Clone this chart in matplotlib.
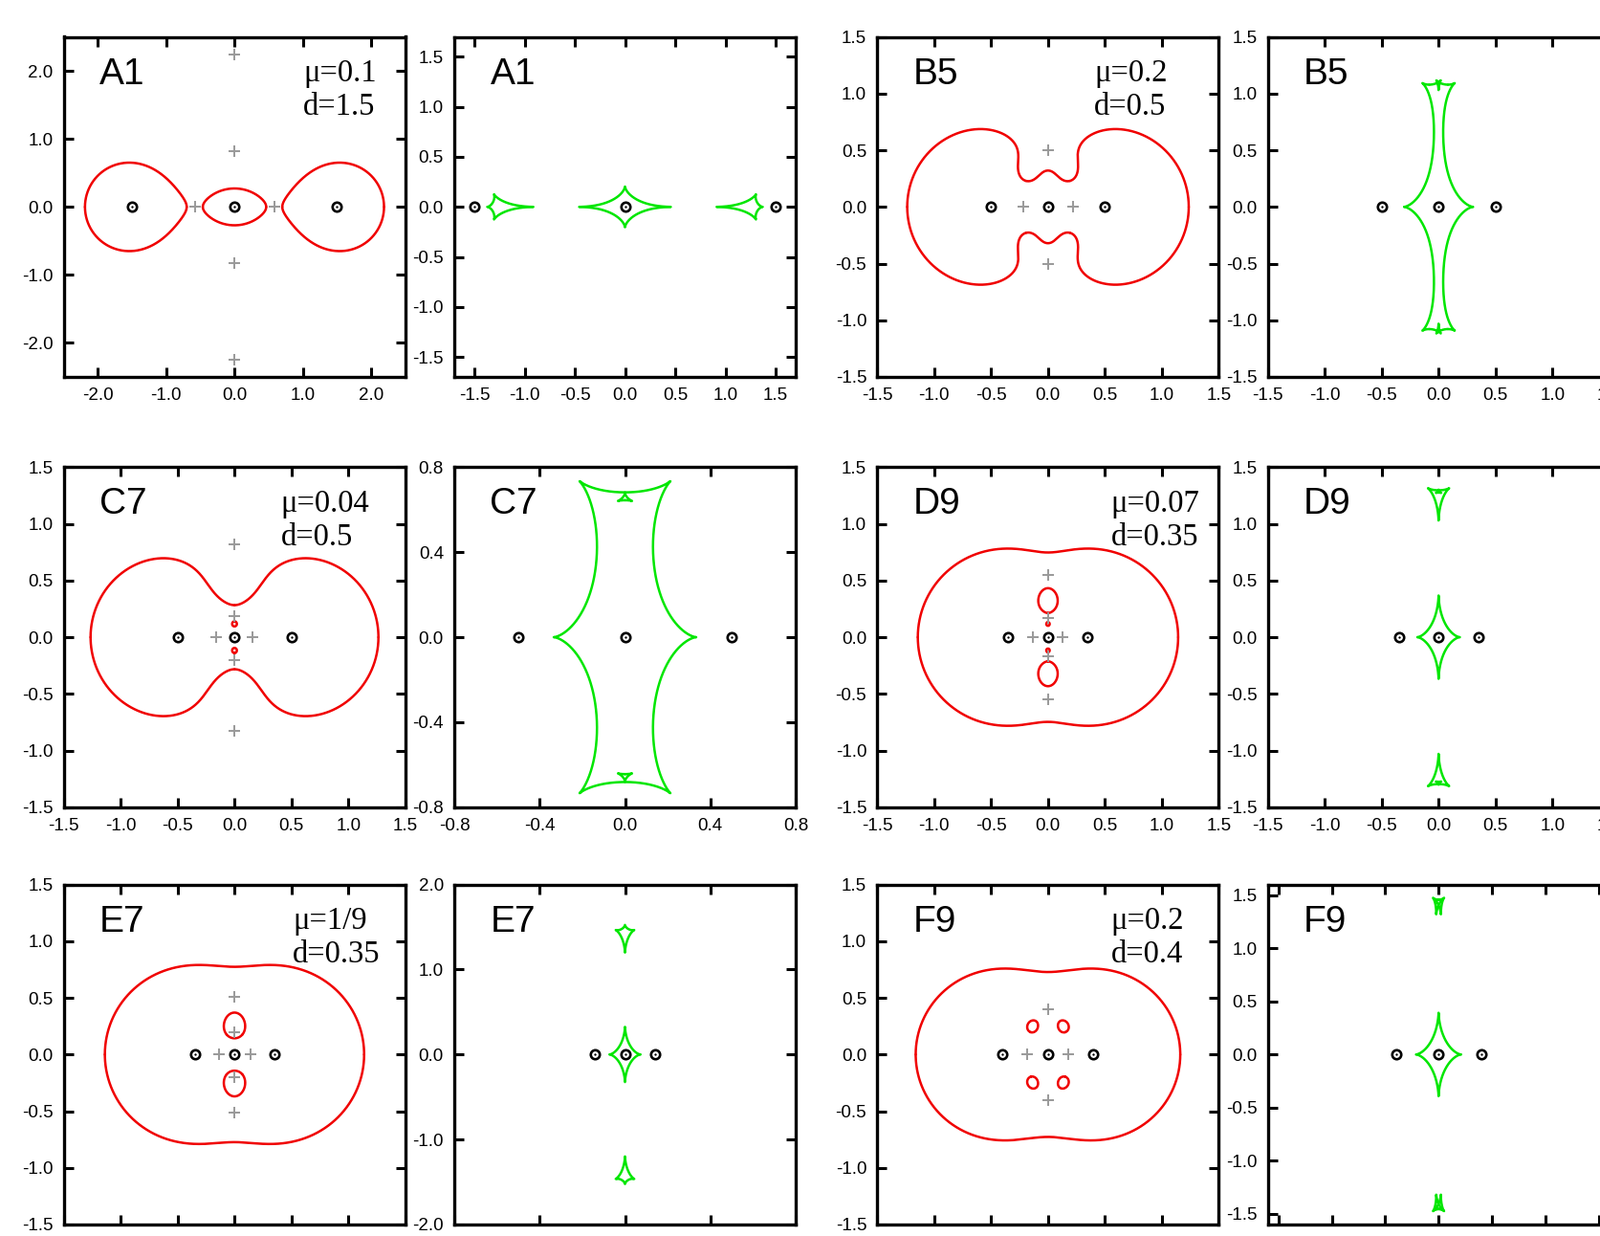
import numpy as np
import matplotlib
matplotlib.use("Agg")
import matplotlib.pyplot as plt
from matplotlib.ticker import FormatStrFormatter

plt.rcParams['font.family'] = 'Liberation Sans'
plt.rcParams['axes.unicode_minus'] = False

# ---- chart data ----------------------------------------------------------
names = ['A1', 'B5', 'C7', 'D9', 'E7', 'F9']
mu_text = ['0.1', '0.2', '0.04', '0.07', '1/9', '0.2']
mu_vals = [0.1, 0.2, 0.04, 0.07, 1 / 9, 0.2]
d_text = ['1.5', '0.5', '0.5', '0.35', '0.35', '0.4']
d_vals = [1.5, 0.5, 0.5, 0.35, 0.35, 0.4]

# gray "+" markers in the lens plane
plus_x = [
    [0, 0, 0, 0, -0.58, 0.58],
    [0, 0, -0.22, 0.22],
    [0, 0, 0, 0, -0.16, 0.16],
    [0, 0, 0, 0, -0.13, 0.13],
    [0, 0, 0, 0, -0.14, 0.14],
    [0, 0, -0.18, 0.18],
]
plus_y = [
    [2.24, 0.82, -0.82, -2.24, 0, 0],
    [0.5, -0.5, 0, 0],
    [0.82, 0.19, -0.2, -0.83, 0, 0],
    [0.55, 0.165, -0.165, -0.55, 0, 0],
    [0.51, 0.2, -0.2, -0.51, 0, 0],
    [0.4, -0.4, 0, 0],
]

# axis ranges and tick steps (lens plane, source plane)
lens_lim = [2.5, 1.5, 1.5, 1.5, 1.5, 1.5]
lens_step = [1.0, 0.5, 0.5, 0.5, 0.5, 0.5]
src_lim = [1.7, 1.5, 0.8, 1.5, 2.0, 1.6]
src_step = [0.5, 0.5, 0.4, 0.5, 1.0, 0.5]
text_x = [0.701, 0.635, 0.635, 0.685, 0.671, 0.685]

RED = '#f00000'
GREEN = '#00e600'


def lens_setup(mu, d):
    # three point masses on the x axis, the middle one has mass mu
    zs = np.array([-d, 0.0, d], dtype=complex)
    ms = np.array([(1 - mu) / 2, mu, (1 - mu) / 2])
    return zs, ms


def match(prev, new):
    dist = np.abs(prev[:, None] - new[None, :])
    out = np.empty_like(prev)
    used_i, used_j = set(), set()
    for idx in np.argsort(dist, axis=None):
        i, j = divmod(int(idx), len(prev))
        if i in used_i or j in used_j:
            continue
        out[i] = new[j]
        used_i.add(i)
        used_j.add(j)
    return out


def critical_tracks(zs, ms, n=3000):
    sq = [np.polymul([1, -z], [1, -z]) for z in zs]
    full = np.polymul(np.polymul(sq[0], sq[1]), sq[2])
    part = np.zeros(1, complex)
    for i in range(3):
        o = [sq[j] for j in range(3) if j != i]
        part = np.polyadd(part, ms[i] * np.polymul(o[0], o[1]))
    phis = np.linspace(0, 2 * np.pi, n + 1)
    tracks = np.empty((n + 1, 6), complex)
    prev = None
    for k, ph in enumerate(phis):
        r = np.roots(np.polyadd(part, -np.exp(1j * ph) * full))
        if prev is not None:
            r = match(prev, r)
        tracks[k] = r
        prev = r
    return tracks


def to_source(z, zs, ms):
    w = z.copy()
    for zi, mi in zip(zs, ms):
        w = w - mi / np.conj(z - zi)
    return w


def draw_tracks(ax, tracks, color, lim):
    for k in range(tracks.shape[1]):
        t = tracks[:, k]
        x, y = t.real.copy(), t.imag.copy()
        jump = np.abs(np.diff(t)) > 0.15 * lim
        x[1:][jump] = np.nan
        ax.plot(x, y, color=color, lw=1.8, solid_capstyle='round', zorder=2)


def style(ax, lim, step, xlabels=True):
    ax.set_xlim(-lim, lim)
    ax.set_ylim(-lim, lim)
    n = int(round(np.floor(lim / step + 1e-9)))
    ticks = [i * step for i in range(-n, n + 1)]
    ax.set_xticks(ticks)
    ax.set_yticks(ticks)
    ax.xaxis.set_major_formatter(FormatStrFormatter('%.1f'))
    ax.yaxis.set_major_formatter(FormatStrFormatter('%.1f'))
    ax.tick_params(direction='in', length=7, width=2.2, top=True, right=True,
                   labelsize=13.5, pad=8, labelbottom=xlabels)
    for s in ax.spines.values():
        s.set_linewidth(2.4)


def draw_lenses(ax, zs):
    ax.plot(zs.real, zs.imag, 'o', ms=6.8, mfc='none', mec='black', mew=1.9,
            zorder=4)
    ax.plot(zs.real, zs.imag, 'o', ms=1.7, mfc='black', mec='black', mew=0,
            zorder=4)


W, H = 1673, 1292
fig = plt.figure(figsize=(W / 100, H / 100), dpi=100)

col_x = [66.7, 475.0, 917.3, 1325.7]
row_y = [38.5, 488.3, 924.5]
pw, ph = 357.0, 355.5

for p in range(6):
    row, pair = divmod(p, 2)
    zs, ms = lens_setup(mu_vals[p], d_vals[p])
    crit = critical_tracks(zs, ms)
    caus = to_source(crit, zs, ms)

    xl = col_x[2 * pair]
    xr = col_x[2 * pair + 1]
    top = row_y[row]
    # the bottom row's x labels fall below the cropped picture edge
    show_x = row < 2
    axl = fig.add_axes([xl / W, 1 - (top + ph) / H, pw / W, ph / H])
    axr = fig.add_axes([xr / W, 1 - (top + ph) / H, pw / W, ph / H])

    # lens plane: critical curves
    style(axl, lens_lim[p], lens_step[p], show_x)
    draw_tracks(axl, crit, RED, lens_lim[p])
    axl.plot(plus_x[p], plus_y[p], '+', color='#999999', ms=8, mew=1.4,
             zorder=3)
    draw_lenses(axl, zs)
    axl.text(0.105, 0.862, names[p], transform=axl.transAxes, fontsize=28,
             va='baseline', ha='left')
    axl.text(text_x[p], 0.868, '\u03bc=' + mu_text[p], transform=axl.transAxes,
             fontsize=23.5, family='Liberation Serif', va='baseline', ha='left')
    axl.text(text_x[p], 0.771, 'd=' + d_text[p], transform=axl.transAxes,
             fontsize=23.5, family='Liberation Serif', va='baseline', ha='left')

    # source plane: caustics
    style(axr, src_lim[p], src_step[p], show_x)
    draw_tracks(axr, caus, GREEN, src_lim[p])
    draw_lenses(axr, zs)
    axr.text(0.105, 0.862, names[p], transform=axr.transAxes, fontsize=28,
             va='baseline', ha='left')

fig.savefig('out.png', dpi=100)
